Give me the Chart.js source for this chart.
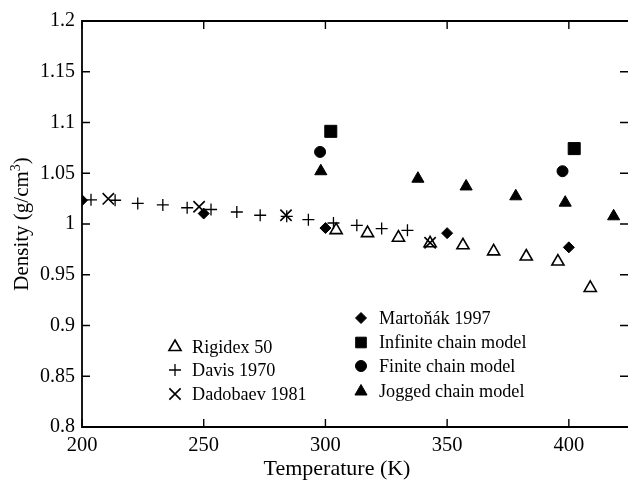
<!DOCTYPE html>
<html><head><meta charset="utf-8">
<script src="https://cdn.jsdelivr.net/npm/chart.js@4/dist/chart.umd.min.js"></script>
<style>html,body{margin:0;padding:0;background:#fff}#wrap{width:628px;height:484px;position:relative}</style>
</head><body><div id="wrap"><canvas id="c" width="628" height="484"></canvas></div>
<script>
// ---- data ----
const rigidexT = [304.4, 317.3, 330.0, 343.0, 356.5, 369.1, 382.5, 395.5, 408.8];
const rigidexD = [0.994, 0.991, 0.9865, 0.981, 0.979, 0.973, 0.968, 0.963, 0.937];
const davisT = [203.7, 213.6, 222.9, 233.2, 243.2, 253.0, 263.6, 273.2, 284.1, 293.0, 303.3, 312.9, 323.1, 333.7];
const davisD = [1.0238, 1.0234, 1.0203, 1.0188, 1.016, 1.0143, 1.0118, 1.0086, 1.0076, 1.0043, 1.001, 0.9987, 0.9955, 0.9938];
const dadobaevT = [210.8, 248.1, 283.8, 343.0];
const dadobaevD = [1.0248, 1.0170, 1.0086, 0.9815];
const martonakT = [200, 250, 300, 350, 400];
const martonakD = [1.0234, 1.0103, 0.996, 0.991, 0.977];
const infiniteT = [302.2, 402.2];
const infiniteD = [1.0913, 1.0743];
const finiteT = [297.8, 397.4];
const finiteD = [1.071, 1.052];
const joggedT = [298.1, 338.0, 357.8, 378.2, 398.5, 418.4];
const joggedD = [1.052, 1.0446, 1.037, 1.0273, 1.021, 1.0076];

const xTickVals = [200, 250, 300, 350, 400];
const xTickLabels = ['200', '250', '300', '350', '400'];
const yTickVals = [0.8, 0.85, 0.9, 0.95, 1.0, 1.05, 1.1, 1.15, 1.2];
const yTickLabels = ['0.8', '0.85', '0.9', '0.95', '1', '1.05', '1.1', '1.15', '1.2'];

const seriesNames = ['Rigidex 50', 'Davis 1970', 'Dadobaev 1981', 'Martoňák 1997', 'Infinite chain model', 'Finite chain model', 'Jogged chain model'];
const xTitle = 'Temperature (K)';
const yTitleMain = 'Density (g/cm';
const yTitleSup = '3';

// ---- styling ----
const FONT = '"Liberation Serif", "Times New Roman", serif';
const pts = (xs, ys) => xs.map((x, i) => ({x: x, y: ys[i]}));
const styles = [
  {pointStyle: 'triangle', radius: 7, fill: 'rgba(0,0,0,0)', bw: 1.6},
  {pointStyle: 'cross', radius: 6, fill: 'rgba(0,0,0,0)', bw: 1.3},
  {pointStyle: 'crossRot', radius: 8, fill: 'rgba(0,0,0,0)', bw: 1.6},
  {pointStyle: 'rectRot', radius: 5.5, fill: '#000', bw: 1},
  {pointStyle: 'rect', radius: 8.5, fill: '#000', bw: 1},
  {pointStyle: 'circle', radius: 5.5, fill: '#000', bw: 1},
  {pointStyle: 'triangle', radius: 7, fill: '#000', bw: 1}
];
const seriesData = [
  pts(rigidexT, rigidexD), pts(davisT, davisD), pts(dadobaevT, dadobaevD),
  pts(martonakT, martonakD), pts(infiniteT, infiniteD), pts(finiteT, finiteD), pts(joggedT, joggedD)
];
const datasets = seriesData.map((d, i) => ({
  label: seriesNames[i], data: d, showLine: false,
  pointStyle: styles[i].pointStyle, pointRadius: styles[i].radius, pointHoverRadius: styles[i].radius,
  backgroundColor: styles[i].fill, borderColor: '#000', borderWidth: styles[i].bw
}));

function drawSym(ctx, st, x, y) {
  const r = st.radius;
  ctx.save();
  ctx.lineWidth = st.bw; ctx.strokeStyle = '#000'; ctx.fillStyle = st.fill;
  ctx.beginPath();
  switch (st.pointStyle) {
    case 'triangle': {
      let a = 0;
      ctx.moveTo(x + Math.sin(a) * r, y - Math.cos(a) * r);
      a += 2 * Math.PI / 3; ctx.lineTo(x + Math.sin(a) * r, y - Math.cos(a) * r);
      a += 2 * Math.PI / 3; ctx.lineTo(x + Math.sin(a) * r, y - Math.cos(a) * r);
      ctx.closePath(); ctx.fill(); ctx.stroke(); break; }
    case 'cross':
      ctx.moveTo(x - r, y); ctx.lineTo(x + r, y); ctx.moveTo(x, y - r); ctx.lineTo(x, y + r); ctx.stroke(); break;
    case 'crossRot': {
      const o = r * Math.SQRT1_2;
      ctx.moveTo(x - o, y - o); ctx.lineTo(x + o, y + o); ctx.moveTo(x + o, y - o); ctx.lineTo(x - o, y + o); ctx.stroke(); break; }
    case 'rectRot':
      ctx.moveTo(x - r, y); ctx.lineTo(x, y - r); ctx.lineTo(x + r, y); ctx.lineTo(x, y + r); ctx.closePath(); ctx.fill(); ctx.stroke(); break;
    case 'rect': {
      const s = r * Math.SQRT1_2; ctx.rect(x - s, y - s, 2 * s, 2 * s); ctx.fill(); ctx.stroke(); break; }
    case 'circle':
      ctx.arc(x, y, r, 0, Math.PI * 2); ctx.fill(); ctx.stroke(); break;
  }
  ctx.restore();
}

const decor = {
  id: 'decor',
  afterDatasetsDraw(chart) {
    const ctx = chart.ctx, a = chart.chartArea, xs = chart.scales.x, ys = chart.scales.y;
    ctx.save();
    ctx.strokeStyle = '#000';
    ctx.lineWidth = 1.8;
    ctx.beginPath();
    ctx.moveTo(a.right + 2, a.top); ctx.lineTo(a.left, a.top); ctx.lineTo(a.left, a.bottom); ctx.lineTo(a.right + 2, a.bottom);
    ctx.stroke();
    ctx.lineWidth = 1.4;
    ctx.beginPath();
    xTickVals.forEach(v => {
      const p = xs.getPixelForValue(v);
      ctx.moveTo(p, a.bottom); ctx.lineTo(p, a.bottom - 8);
      ctx.moveTo(p, a.top); ctx.lineTo(p, a.top + 8);
    });
    yTickVals.forEach(v => {
      const p = ys.getPixelForValue(v);
      ctx.moveTo(a.left, p); ctx.lineTo(a.left + 8, p);
      ctx.moveTo(a.right, p); ctx.lineTo(a.right - 8, p);
    });
    ctx.stroke();

    // legends
    ctx.fillStyle = '#000';
    ctx.font = '18.2px ' + FONT;
    ctx.textAlign = 'left';
    ctx.textBaseline = 'alphabetic';
    const leftRows = [347, 370, 394];
    [0, 1, 2].forEach((si, k) => {
      drawSym(ctx, styles[si], 175, leftRows[k]);
      ctx.fillText(seriesNames[si], 192, leftRows[k] + 6);
    });
    const rightRows = [318, 342.5, 366, 391.5];
    [3, 4, 5, 6].forEach((si, k) => {
      const st = Object.assign({}, styles[si]);
      if (si === 4) st.radius = 7.5;
      drawSym(ctx, st, 361, rightRows[k]);
      ctx.fillText(seriesNames[si], 379, rightRows[k] + 5.5);
    });

    // axis titles
    ctx.font = '22px ' + FONT;
    ctx.textAlign = 'center';
    ctx.fillText(xTitle, 337, 475);
    ctx.save();
    ctx.translate(28, 224);
    ctx.rotate(-Math.PI / 2);
    ctx.textAlign = 'left';
    ctx.font = '21px ' + FONT;
    const w1 = ctx.measureText(yTitleMain).width;
    ctx.font = '14px ' + FONT;
    const w2 = ctx.measureText(yTitleSup).width;
    ctx.font = '21px ' + FONT;
    const w3 = ctx.measureText(')').width;
    let sx = -(w1 + w2 + w3) / 2;
    ctx.fillText(yTitleMain, sx, 0);
    ctx.font = '14px ' + FONT;
    ctx.fillText(yTitleSup, sx + w1, -8);
    ctx.font = '21px ' + FONT;
    ctx.fillText(')', sx + w1 + w2, 0);
    ctx.restore();
    ctx.restore();
  }
};

new Chart(document.getElementById('c'), {
  type: 'scatter',
  data: {datasets: datasets},
  options: {
    responsive: false, animation: false, devicePixelRatio: 1,
    layout: {autoPadding: false, padding: {top: 21, right: 0, left: 0, bottom: 0}},
    plugins: {legend: {display: false}, tooltip: {enabled: false}},
    scales: {
      x: {
        type: 'linear', min: 200, max: 424.3,
        grid: {display: false, drawTicks: false}, border: {display: false},
        afterBuildTicks: s => { s.ticks = xTickVals.map(v => ({value: v})); },
        afterFit: s => { s.height = 57; s.paddingRight = 0; s.paddingLeft = 0; },
        ticks: {padding: 6, color: '#000', font: {family: FONT, size: 20.5},
          callback: (v) => { const i = xTickVals.indexOf(v); return i >= 0 ? xTickLabels[i] : ''; }, maxRotation: 0}
      },
      y: {
        type: 'linear', min: 0.8, max: 1.2,
        grid: {display: false, drawTicks: false}, border: {display: false},
        afterBuildTicks: s => { s.ticks = yTickVals.map(v => ({value: v})); },
        afterFit: s => { s.width = 82; s.paddingTop = 0; s.paddingBottom = 0; },
        ticks: {padding: 7, color: '#000', font: {family: FONT, size: 20},
          callback: (v) => { const i = yTickVals.findIndex(t => Math.abs(t - v) < 1e-9); return i >= 0 ? yTickLabels[i] : ''; }}
      }
    }
  },
  plugins: [decor]
});
</script>
</body></html>
